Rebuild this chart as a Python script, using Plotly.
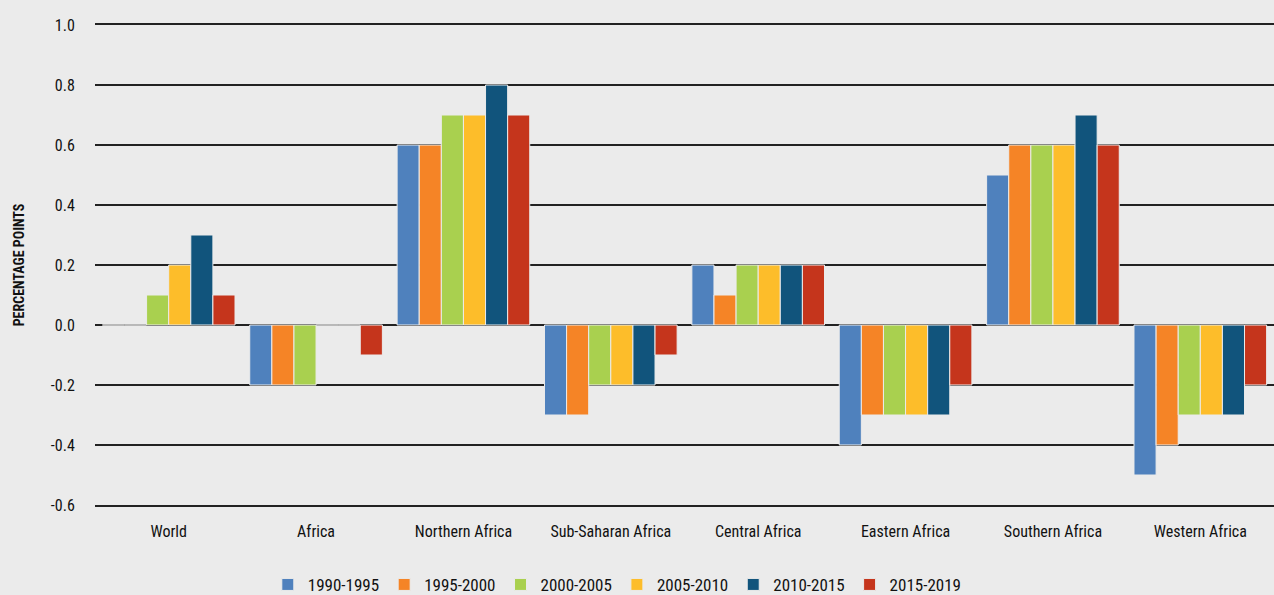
import plotly.graph_objects as go

regions = ["World", "Africa", "Northern Africa", "Sub-Saharan Africa",
           "Central Africa", "Eastern Africa", "Southern Africa", "Western Africa"]
periods = ["1990-1995", "1995-2000", "2000-2005", "2005-2010", "2010-2015", "2015-2019"]
y_ticks = [-0.6, -0.4, -0.2, 0.0, 0.2, 0.4, 0.6, 0.8, 1.0]
y_tick_labels = ["-0.6", "-0.4", "-0.2", "0.0", "0.2", "0.4", "0.6", "0.8", "1.0"]

v_1990_1995 = [0.0, -0.2, 0.6, -0.3, 0.2, -0.4, 0.5, -0.5]
v_1995_2000 = [0.0, -0.2, 0.6, -0.3, 0.1, -0.3, 0.6, -0.4]
v_2000_2005 = [0.1, -0.2, 0.7, -0.2, 0.2, -0.3, 0.6, -0.3]
v_2005_2010 = [0.2, 0.0, 0.7, -0.2, 0.2, -0.3, 0.6, -0.3]
v_2010_2015 = [0.3, 0.0, 0.8, -0.2, 0.2, -0.3, 0.7, -0.3]
v_2015_2019 = [0.1, -0.1, 0.7, -0.1, 0.2, -0.2, 0.6, -0.2]

series = [v_1990_1995, v_1995_2000, v_2000_2005, v_2005_2010, v_2010_2015, v_2015_2019]
colors = ["#4f81bd", "#f58426", "#a9d04f", "#fdbd2a", "#11547c", "#c5351c"]

font = "Roboto Condensed, Liberation Sans Narrow, Roboto, sans-serif"

fig = go.Figure()
for name, vals, c in zip(periods, series, colors):
    fig.add_trace(go.Bar(x=regions, y=vals, name=name, marker_color=c,
                         marker_line=dict(color="#ebebeb", width=1)))

fig.update_layout(
    width=1274, height=595,
    barmode="group", bargap=0.1, bargroupgap=0,
    paper_bgcolor="#ebebeb", plot_bgcolor="#ebebeb",
    margin=dict(l=95, r=0, t=25, b=90),
    font=dict(family=font, size=16, color="#111"),
    legend=dict(orientation="h", x=0.443, xanchor="center",
                yref="container", y=0.017, yanchor="middle",
                font=dict(size=17), itemwidth=30, traceorder="normal"),
    showlegend=True,
)
fig.update_yaxes(range=[-0.6, 1.0], tickvals=y_ticks, ticktext=y_tick_labels,
                 showgrid=True, gridcolor="#222", gridwidth=1.5,
                 zeroline=True, zerolinecolor="#222", zerolinewidth=1.5,
                 ticks="outside", ticklen=16, tickcolor="rgba(0,0,0,0)",
                 title=dict(text="<b>PERCENTAGE POINTS</b>", font=dict(size=14), standoff=22))
fig.update_xaxes(showgrid=False, showline=True, mirror=True, linecolor="#222", linewidth=1.5,
                 ticks="outside", ticklen=11, tickcolor="rgba(0,0,0,0)",
                 tickfont=dict(size=16))

fig.write_html("out.html", config={"displayModeBar": False},
               post_script="document.body.style.margin='0';document.body.style.background='#ebebeb';")
